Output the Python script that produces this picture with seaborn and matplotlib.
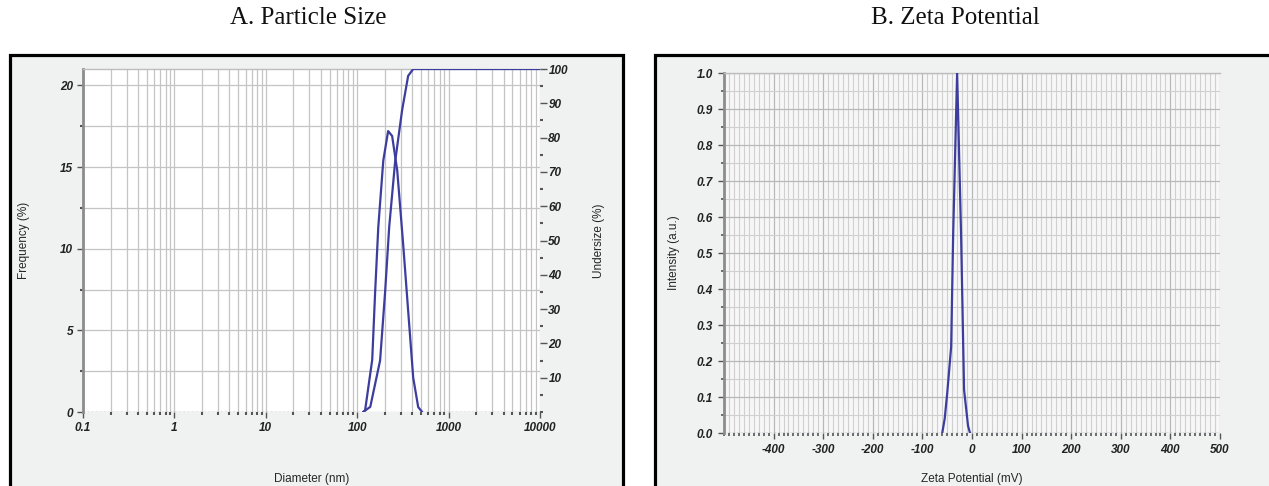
import numpy as np
import pandas as pd
import seaborn as sns
import matplotlib
matplotlib.use("Agg")
import matplotlib.pyplot as plt
from matplotlib.patches import Rectangle
from matplotlib.ticker import FixedLocator, MultipleLocator, NullFormatter, LogLocator
from matplotlib.font_manager import FontProperties

# ---------------- data ----------------
# A. Particle size
diam_bell = [116, 122, 146, 157, 170, 193, 218, 241, 274, 318, 361, 410, 465, 514]
freq_bell = [0, 0.1, 3.2, 7.3, 11.3, 15.4, 17.2, 16.9, 14.8, 10.3, 6.2, 2.1, 0.3, 0]
diam_cum = [116, 139, 178, 202, 224, 260, 310, 361, 410, 10000]
under_cum = [0, 1.5, 15, 35, 54, 73, 88, 98, 100, 100]
diam_zero_lo = [0.1, 116]
diam_zero_hi = [514, 10000]
freq_zero = [0, 0]

size_ticks = [0.1, 1, 10, 100, 1000, 10000]
size_labels = ["0.1", "1", "10", "100", "1000", "10000"]
freq_ticks = [0, 5, 10, 15, 20]
under_ticks = [10, 20, 30, 40, 50, 60, 70, 80, 90, 100]

# B. Zeta potential
zeta_peak = [-60, -55, -50, -42, -38, -30, -22, -16, -8, -4]
inten_peak = [0, 0.04, 0.11, 0.24, 0.55, 1.0, 0.55, 0.12, 0.02, 0]
zeta_zero_lo = [-500, -60]
zeta_zero_hi = [-4, 500]
inten_zero = [0, 0]
zeta_ticks = [-400, -300, -200, -100, 0, 100, 200, 300, 400, 500]
inten_ticks = [0.0, 0.1, 0.2, 0.3, 0.4, 0.5, 0.6, 0.7, 0.8, 0.9, 1.0]

# ---------------- style ----------------
sns.set_theme(style="white")
plt.rcParams["font.family"] = ["Liberation Sans", "DejaVu Sans"]

LINE = "#3d3d9e"
DOT = "#8a8ab8"
GRID = "#c4c4c4"
W, H = 1269, 486
fig = plt.figure(figsize=(W / 100, H / 100), dpi=100)
fig.patch.set_facecolor("white")

def fx(px):
    return px / W

def fy(py):
    return 1 - py / H

# panel frames (drawn behind the axes)
frameA = Rectangle((fx(10), -0.1), fx(623 - 10), fy(55) + 0.1, transform=fig.transFigure,
                   facecolor="#f0f1f1", edgecolor="black", lw=2.3, zorder=-5)
frameB = Rectangle((fx(655), -0.1), fx(1290 - 655), fy(55) + 0.1, transform=fig.transFigure,
                   facecolor="#f0f1f1", edgecolor="black", lw=2.3, zorder=-5)
fig.patches.extend([frameA, frameB])

fig.text(fx(308), fy(18), "A. Particle Size", family="Liberation Serif", fontsize=18,
         ha="center", va="center", color="#111111", zorder=5)
fig.text(fx(955), fy(18), "B. Zeta Potential", family="Liberation Serif", fontsize=18,
         ha="center", va="center", color="#111111", zorder=5)

tickfont = FontProperties(family="Liberation Sans", weight="bold", style="italic", size=8.5)
labfont = dict(family="Liberation Sans", size=8.5)

def style_ticks(ax):
    for lab in ax.get_xticklabels() + ax.get_yticklabels():
        lab.set_fontproperties(tickfont)
        lab.set_color("#222222")

# ---------------- A. Particle size ----------------
axA = fig.add_axes([fx(83), fy(412), fx(540 - 83), (412 - 69) / H], zorder=1)
axA.set_facecolor("white")
sns.lineplot(x=diam_zero_lo, y=freq_zero, ax=axA, color=DOT, lw=1.0, linestyle=(0, (1, 2)), zorder=3)
sns.lineplot(x=diam_zero_hi, y=freq_zero, ax=axA, color=DOT, lw=1.0, linestyle=(0, (1, 2)), zorder=3)
sns.lineplot(x=diam_bell, y=freq_bell, ax=axA, color=LINE, lw=1.6, zorder=4, sort=False)
axA.set_xscale("log")
axA.set_xlim(0.1, 10000)
axA.set_ylim(0, 21)
axA.xaxis.set_major_locator(FixedLocator(size_ticks))
axA.set_xticklabels(size_labels)
axA.xaxis.set_minor_locator(LogLocator(base=10, subs=np.arange(2, 10)))
axA.xaxis.set_minor_formatter(NullFormatter())
axA.yaxis.set_major_locator(FixedLocator(freq_ticks))
axA.yaxis.set_minor_locator(MultipleLocator(2.5))
axA.grid(True, which="both", color=GRID, lw=0.9)
axA.set_axisbelow(True)
axA.tick_params(axis="both", which="major", direction="out", length=4, width=1, color="#555555", pad=3,
                bottom=True, left=True)
axA.tick_params(axis="both", which="minor", direction="out", length=2, width=1.5, color="#555555",
                bottom=True, left=True)
axA.set_xlabel("Diameter (nm)", labelpad=28, **labfont)
axA.set_ylabel("Frequency (%)", labelpad=22, **labfont)
for s in ["right", "bottom"]:
    axA.spines[s].set_visible(False)
axA.spines["left"].set_color("#8c8c8c")
axA.spines["left"].set_linewidth(2)
axA.spines["top"].set_color("#bdbdbd")
axA.spines["top"].set_linewidth(1)
style_ticks(axA)

axA2 = axA.twinx()
sns.lineplot(x=diam_cum, y=under_cum, ax=axA2, color=LINE, lw=1.6, zorder=4)
axA2.set_ylim(0, 100)
axA2.yaxis.set_major_locator(FixedLocator(under_ticks))
axA2.yaxis.set_minor_locator(MultipleLocator(5))
axA2.tick_params(axis="y", which="major", direction="out", length=5, width=1, color="#555555", pad=1, right=True)
axA2.tick_params(axis="y", which="minor", direction="out", length=2, width=1.5, color="#555555", right=True)
axA2.set_ylabel("Undersize (%)", labelpad=18, rotation=90, **labfont)
axA2.yaxis.set_label_position("right")
for s in ["top", "left", "bottom", "right"]:
    axA2.spines[s].set_visible(False)
axA2.grid(False)
style_ticks(axA2)

# ---------------- B. Zeta potential ----------------
axB = fig.add_axes([fx(724), fy(433), fx(1220 - 724), (433 - 73) / H], zorder=1)
axB.set_facecolor("#f7f7f7")
sns.lineplot(x=zeta_zero_lo, y=inten_zero, ax=axB, color=DOT, lw=1.0, linestyle=(0, (1, 2)), zorder=3)
sns.lineplot(x=zeta_zero_hi, y=inten_zero, ax=axB, color=DOT, lw=1.0, linestyle=(0, (1, 2)), zorder=3)
sns.lineplot(x=zeta_peak, y=inten_peak, ax=axB, color=LINE, lw=1.6, zorder=4, sort=False)
axB.set_xlim(-500, 500)
axB.set_ylim(0, 1.0)
axB.xaxis.set_major_locator(FixedLocator(zeta_ticks))
axB.set_xticklabels([str(t) for t in zeta_ticks])
axB.xaxis.set_minor_locator(MultipleLocator(10))
axB.yaxis.set_major_locator(FixedLocator(inten_ticks))
axB.set_yticklabels([f"{t:.1f}" for t in inten_ticks])
axB.yaxis.set_minor_locator(MultipleLocator(0.05))
axB.grid(True, which="major", color="#b8b8b8", lw=0.9)
axB.grid(True, which="minor", color="#d0d0d0", lw=0.8)
axB.set_axisbelow(True)
axB.tick_params(axis="both", which="major", direction="out", length=4, width=1, color="#555555", pad=4,
                bottom=True, left=True)
axB.tick_params(axis="both", which="minor", direction="out", length=2, width=1.2, color="#555555",
                bottom=True, left=True)
axB.set_xlabel("Zeta Potential (mV)", labelpad=12, **labfont)
axB.set_ylabel("Intensity (a.u.)", labelpad=12, **labfont)
for s in ["right", "bottom"]:
    axB.spines[s].set_visible(False)
axB.spines["left"].set_color("#8c8c8c")
axB.spines["left"].set_linewidth(2)
axB.spines["top"].set_color("#bdbdbd")
axB.spines["top"].set_linewidth(1)
style_ticks(axB)

fig.savefig("out.png", dpi=100)
